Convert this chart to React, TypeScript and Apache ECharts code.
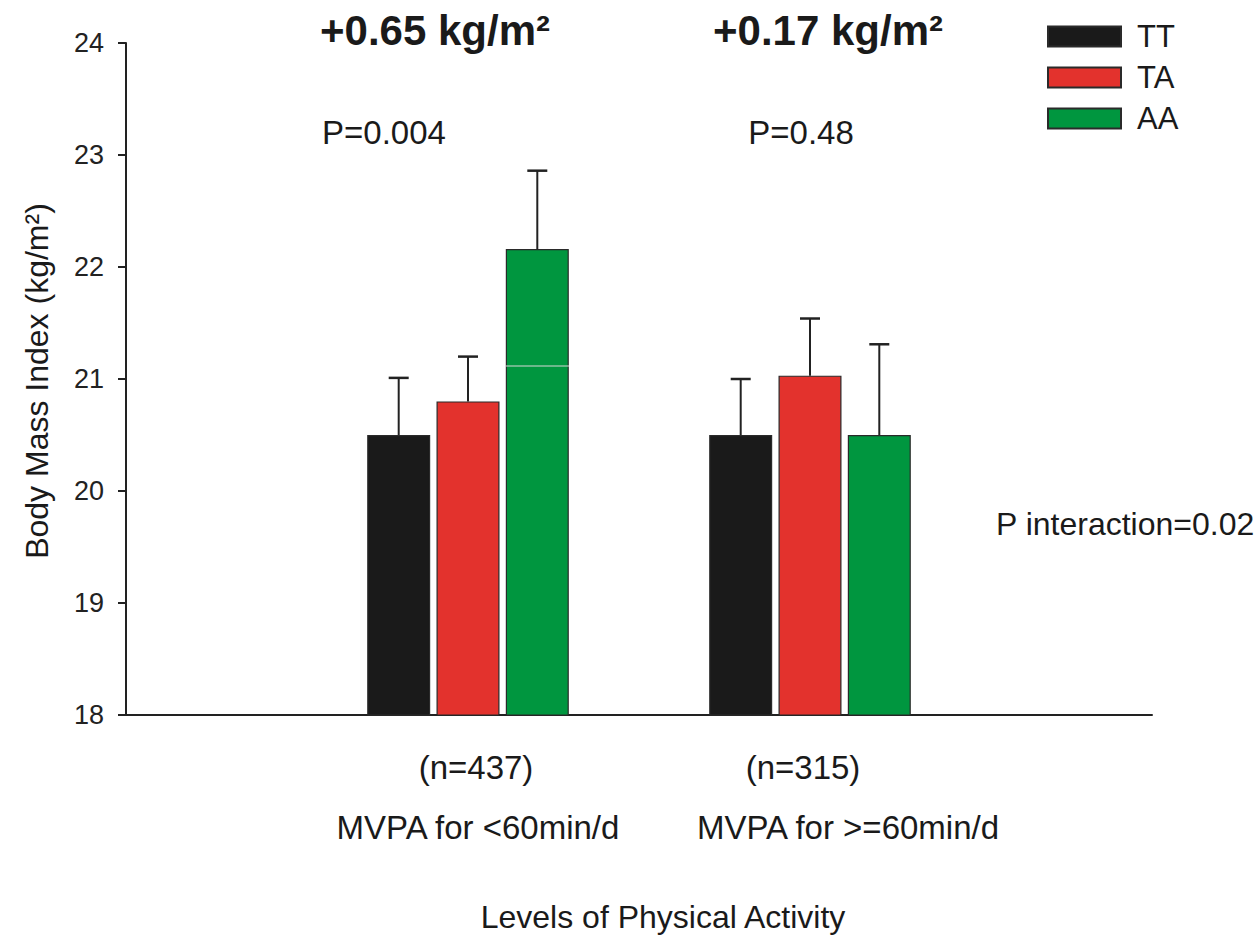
import React, { useEffect, useRef } from "react";
import * as echarts from "echarts";

const categories = ["", "MVPA for <60min/d", "MVPA for >=60min/d", ""];
const genotypes = ["TT", "TA", "AA"];
const colors = ["#1a1a1a", "#e3322d", "#00963f"];

const ttMean = [null, 20.5, 20.5, null];
const taMean = [null, 20.8, 21.03, null];
const aaMean = [null, 22.16, 20.5, null];
const ttUpper = [null, 21.01, 21.0, null];
const taUpper = [null, 21.2, 21.54, null];
const aaUpper = [null, 22.86, 21.31, null];

const yMin = 18;
const yMax = 24;
const yInterval = 1;

const effectLabels = ["+0.65 kg/m²", "+0.17 kg/m²"];
const pLabels = ["P=0.004", "P=0.48"];
const sampleLabels = ["(n=437)", "(n=315)"];
const groupLabels = ["MVPA for <60min/d", "MVPA for >=60min/d"];
const interactionLabel = "P interaction=0.02";
const xTitle = "Levels of Physical Activity";
const yTitle = "Body Mass Index (kg/m²)";

const FONT = "'Liberation Sans', Arial, Helvetica, sans-serif";
const BAR_W = 63;
const GAP = 6.3;

export default function App() {
  const ref = useRef<HTMLDivElement>(null);
  useEffect(() => {
    if (!ref.current) return;
    const chart = echarts.init(ref.current, undefined, { renderer: "svg" });
    const meansAll = [ttMean, taMean, aaMean];
    const uppersAll = [ttUpper, taUpper, aaUpper];

    const barSeries = genotypes.map((g, i) => ({
      name: g,
      type: "bar",
      data: meansAll[i],
      barWidth: BAR_W,
      barGap: "10%",
      clip: true,
      itemStyle: { color: colors[i], borderColor: "#2a2a2a", borderWidth: 1.2 },
      z: 2,
    }));

    const errSeries = genotypes.map((g, i) => {
      const data: any[] = [];
      meansAll[i].forEach((m, k) => {
        if (m != null && uppersAll[i][k] != null) data.push([k, m, uppersAll[i][k]]);
      });
      const offset = (i - 1) * (BAR_W + GAP);
      return {
        name: g + " error",
        type: "custom",
        data,
        encode: { x: 0, y: 2 },
        z: 3,
        renderItem: (params: any, api: any) => {
          const c = api.value(0);
          const base = api.coord([c, api.value(1)]);
          const top = api.coord([c, api.value(2)]);
          const x = base[0] + offset;
          return {
            type: "group",
            children: [
              {
                type: "line",
                shape: { x1: x, y1: base[1], x2: x, y2: top[1] },
                style: { stroke: "#222", lineWidth: 2 },
              },
              {
                type: "line",
                shape: { x1: x - 10, y1: top[1], x2: x + 10, y2: top[1] },
                style: { stroke: "#222", lineWidth: 2.5 },
              },
            ],
          };
        },
      };
    });

    const txt = (text: string, x: number, y: number, size: number, opts: any = {}) => ({
      type: "text",
      x,
      y,
      rotation: opts.rotation || 0,
      z: 10,
      style: {
        text,
        fill: "#1a1a1a",
        font: `${opts.bold ? "bold " : ""}${size}px ${FONT}`,
        align: opts.align || "center",
        verticalAlign: "middle",
      },
    });

    const graphics: any[] = [
      txt(effectLabels[0], 435, 30, 42, { bold: true }),
      txt(effectLabels[1], 828, 30, 42, { bold: true }),
      txt(pLabels[0], 384, 132, 33),
      txt(pLabels[1], 801, 132, 33),
      txt(interactionLabel, 996, 524, 32, { align: "left" }),
      txt(sampleLabels[0], 476, 767, 33),
      txt(sampleLabels[1], 803, 767, 33),
      txt(groupLabels[0], 478, 827, 33),
      txt(groupLabels[1], 848, 827, 33),
      txt(xTitle, 663, 917, 32),
      txt(yTitle, 37, 381, 32, { rotation: Math.PI / 2 }),
      {
        type: "line",
        z: 20,
        shape: { x1: 505, y1: 366, x2: 569, y2: 366 },
        style: { stroke: "#d8d8d8", lineWidth: 1 },
      },
    ];

    chart.setOption({
      animation: false,
      backgroundColor: "#ffffff",
      textStyle: { fontFamily: FONT },
      grid: { left: 126, right: 106, top: 43, bottom: 221, containLabel: false },
      legend: {
        data: genotypes,
        orient: "vertical",
        left: 1042,
        top: 16,
        itemWidth: 73,
        itemHeight: 20,
        itemGap: 10,
        icon: "rect",
        textStyle: { fontSize: 31, color: "#1a1a1a", fontFamily: FONT, padding: [0, 0, 0, 11] },
        selectedMode: false,
      },
      xAxis: {
        type: "category",
        data: categories,
        boundaryGap: false,
        axisTick: { show: false },
        axisLabel: { show: false },
        axisLine: { show: true, lineStyle: { color: "#222", width: 2 } },
        splitLine: { show: false },
      },
      yAxis: {
        type: "value",
        min: yMin,
        max: yMax,
        interval: yInterval,
        axisLine: { show: true, lineStyle: { color: "#222", width: 2 } },
        axisTick: { show: true, inside: false, length: 8, lineStyle: { color: "#222", width: 2 } },
        axisLabel: { fontSize: 27, color: "#222", margin: 22, fontFamily: FONT },
        splitLine: { show: false },
      },
      graphic: graphics,
      series: [...barSeries, ...errSeries],
    });
    return () => chart.dispose();
  }, []);
  return (
    <div
      ref={ref}
      style={{ position: "absolute", left: 0, top: 0, width: 1258, height: 936 }}
    />
  );
}
